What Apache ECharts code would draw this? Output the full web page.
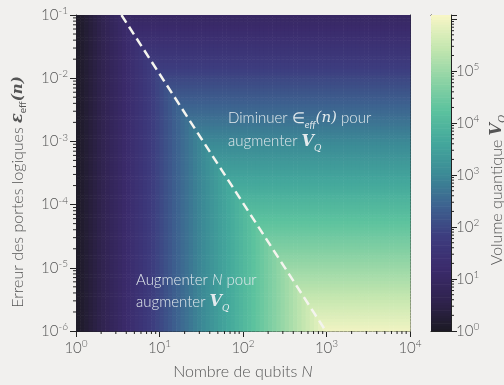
<!DOCTYPE html>
<html>
<head>
<meta charset="utf-8">
<script src="https://cdn.jsdelivr.net/npm/echarts@6/dist/echarts.min.js"></script>
<style>
  html, body { margin: 0; padding: 0; background: #f1f0ee; }
  #chart { width: 504px; height: 385px; }
</style>
</head>
<body>
<div id="chart"></div>
<script>
// log10(V_Q) read along the N-limited side (left of the dashed line), one value per 0.05 decade of N
const vByN = [0.05, 0.15, 0.25, 0.35, 0.45, 0.55, 0.65, 0.75, 0.85, 0.95,
  1.05, 1.15, 1.25, 1.35, 1.45, 1.55, 1.65, 1.75, 1.85, 1.95,
  2.05, 2.15, 2.25, 2.35, 2.45, 2.55, 2.65, 2.75, 2.85, 2.95,
  3.05, 3.15, 3.25, 3.35, 3.45, 3.55, 3.65, 3.75, 3.85, 3.95,
  4.05, 4.15, 4.25, 4.35, 4.45, 4.55, 4.65, 4.75, 4.85, 4.95,
  5.05, 5.15, 5.25, 5.35, 5.45, 5.55, 5.65, 5.75, 5.85, 5.95,
  6.1, 6.1, 6.1, 6.1, 6.1, 6.1, 6.1, 6.1, 6.1, 6.1,
  6.1, 6.1, 6.1, 6.1, 6.1, 6.1, 6.1, 6.1, 6.1, 6.1]
// log10(V_Q) read along the error-limited side (right of the dashed line), eps from 1e-6 up to 1e-1
const vByEps = [5.975, 5.925, 5.875, 5.825, 5.775, 5.725, 5.675, 5.625, 5.575, 5.525,
  5.475, 5.425, 5.375, 5.325, 5.275, 5.225, 5.175, 5.125, 5.075, 5.025,
  4.975, 4.925, 4.875, 4.825, 4.775, 4.725, 4.675, 4.625, 4.575, 4.525,
  4.475, 4.425, 4.375, 4.325, 4.275, 4.225, 4.175, 4.125, 4.075, 4.025,
  3.975, 3.925, 3.875, 3.825, 3.775, 3.725, 3.675, 3.625, 3.575, 3.525,
  3.475, 3.425, 3.375, 3.325, 3.275, 3.225, 3.175, 3.125, 3.075, 3.025,
  2.975, 2.925, 2.875, 2.825, 2.775, 2.725, 2.675, 2.625, 2.575, 2.525,
  2.475, 2.425, 2.375, 2.325, 2.275, 2.225, 2.175, 2.125, 2.075, 2.025,
  1.975, 1.925, 1.875, 1.825, 1.775, 1.725, 1.675, 1.625, 1.575, 1.525,
  1.475, 1.425, 1.375, 1.325, 1.275, 1.225, 1.175, 1.125, 1.075, 1.025]
// dashed boundary  [N, eps]
const dashLine = [[3.5, 0.1], [980, 1e-6]]
const vMaxExp = 6.08
const STEP = 0.05
// cell centres: log10(N) from 0 and log10(eps) from -6
const nExp = vByN.map((_, i) => STEP / 2 + STEP * i)
const epsExp = vByEps.map((_, j) => -6 + STEP / 2 + STEP * j)

const FONT = 'Lato'
const GREY = '#555555'
const WHITE = '#e3eaed'
const cmap = ['#1c1a24', '#30234f', '#3b2b6c', '#3d3c7e', '#3d6390', '#3c8b96',
  '#44a89c', '#5cc29e', '#8fd4a5', '#c6e7b0', '#f7f6c6']

const cells = []
nExp.forEach((nx, i) => {
  epsExp.forEach((ey, j) => {
    cells.push([Math.pow(10, nx), Math.pow(10, ey), Math.min(vByN[i], vByEps[j])])
  })
})
const cbCells = []
for (let c = 0.025; c < vMaxExp; c += 0.05) cbCells.push([0.5, Math.pow(10, c), c])

const minorOf = (lo, hi) => {
  const out = []
  for (let d = lo; d < hi; d++) for (let m = 2; m <= 9; m++) out.push(m * Math.pow(10, d))
  return out
}
const xMinor = minorOf(0, 4).map(v => [v, 1e-6])
const yMinor = minorOf(-6, -1).map(v => [1, v])
const cbMinor = minorOf(0, 6).map(v => [1, v])

const rich = {
  b: { fontFamily: FONT, fontWeight: 300, fontSize: 15, color: GREY, lineHeight: 18 },
  s: { fontFamily: FONT, fontWeight: 300, fontSize: 10, color: GREY, lineHeight: 10, verticalAlign: 'top' }
}
const powLabel = v => {
  const e = Math.log10(v)
  if (Math.abs(e - Math.round(e)) > 0.01) return ''
  return '{b|10}{s|' + Math.round(e) + '}'
}
const k = Math.pow(10, STEP / 2)
const tick = (dx, dy) => (params, api) => {
  const p = api.coord([api.value(0), api.value(1)])
  return { type: 'line', shape: { x1: p[0], y1: p[1], x2: p[0] + dx, y2: p[1] + dy },
    style: { stroke: '#222', lineWidth: 1 } }
}
const border = { show: true, onZero: false, lineStyle: { color: '#222', width: 1 } }
const bare = { axisTick: { show: false }, axisLabel: { show: false }, splitLine: { show: false } }

const chart = echarts.init(document.getElementById('chart'))
chart.setOption({
  animation: false,
  backgroundColor: '#f1f0ee',
  grid: [
    { left: 76, top: 15, width: 334, height: 316 },
    { left: 431, top: 15, width: 20, height: 316 }
  ],
  xAxis: [
    { gridIndex: 0, type: 'log', logBase: 10, min: 1, max: 10000, axisLine: border,
      axisTick: { length: 6, lineStyle: { color: '#222' } }, splitLine: { show: false },
      axisLabel: { formatter: powLabel, rich: rich, margin: 8 } },
    { gridIndex: 0, type: 'value', position: 'top', min: 0, max: 1, axisLine: border, ...bare },
    { gridIndex: 1, type: 'value', min: 0, max: 1, axisLine: border, ...bare },
    { gridIndex: 1, type: 'value', position: 'top', min: 0, max: 1, axisLine: border, ...bare }
  ],
  yAxis: [
    { gridIndex: 0, type: 'log', logBase: 10, min: 1e-6, max: 0.1, axisLine: border,
      axisTick: { length: 6, lineStyle: { color: '#222' } }, splitLine: { show: false },
      axisLabel: { formatter: powLabel, rich: rich, margin: 8 } },
    { gridIndex: 0, type: 'value', position: 'right', min: 0, max: 1, axisLine: border, ...bare },
    { gridIndex: 1, type: 'value', position: 'left', min: 0, max: 1, axisLine: border, ...bare },
    { gridIndex: 1, type: 'log', logBase: 10, position: 'right', min: 1, max: Math.pow(10, vMaxExp),
      axisLine: border, axisTick: { length: 6, lineStyle: { color: '#222' } }, splitLine: { show: false },
      axisLabel: { formatter: v => (Math.log10(v) > 5.5 ? '' : powLabel(v)), rich: rich, margin: 5 } }
  ],
  visualMap: {
    type: 'continuous', show: false, min: 0, max: vMaxExp, dimension: 2,
    seriesIndex: [0, 4], inRange: { color: cmap }
  },
  series: [
    { type: 'custom', xAxisIndex: 0, yAxisIndex: 0, data: cells, clip: true, silent: true,
      encode: { x: 0, y: 1 },
      renderItem: (params, api) => {
        const a = api.coord([api.value(0) / k, api.value(1) * k])
        const b = api.coord([api.value(0) * k, api.value(1) / k])
        return { type: 'rect', shape: { x: a[0], y: a[1], width: b[0] - a[0] + 0.6, height: b[1] - a[1] + 0.6 },
          style: { fill: api.visual('color') } }
      } },
    { type: 'line', xAxisIndex: 0, yAxisIndex: 0, data: dashLine, symbol: 'none', silent: true, z: 5,
      lineStyle: { color: '#f4f4ee', width: 2.5, type: [9, 5] } },
    { type: 'custom', xAxisIndex: 0, yAxisIndex: 0, data: xMinor, clip: false, silent: true,
      encode: { x: 0, y: 1 }, renderItem: tick(0, 3) },
    { type: 'custom', xAxisIndex: 0, yAxisIndex: 0, data: yMinor, clip: false, silent: true,
      encode: { x: 0, y: 1 }, renderItem: tick(-3, 0) },
    { type: 'custom', xAxisIndex: 2, yAxisIndex: 3, data: cbCells, clip: true, silent: true,
      encode: { x: 0, y: 1 },
      renderItem: (params, api) => {
        const lo = Math.pow(10, 0.025)
        const a = api.coord([0, api.value(1) * lo])
        const b = api.coord([1, api.value(1) / lo])
        return { type: 'rect', shape: { x: a[0], y: a[1], width: b[0] - a[0], height: b[1] - a[1] + 0.6 },
          style: { fill: api.visual('color') } }
      } },
    { type: 'custom', xAxisIndex: 2, yAxisIndex: 3, data: cbMinor, clip: false, silent: true,
      encode: { x: 0, y: 1 }, renderItem: tick(3, 0) }
  ],
  graphic: [
    { type: 'text', x: 18, y: 192, rotation: Math.PI / 2, silent: true, z: 100,
      style: { text: 'Erreur des portes logiques {e|\u03b5}{sub|eff}{n|(n)}', align: 'center', verticalAlign: 'middle',
        fontFamily: FONT, fontWeight: 300, fontSize: 16, fill: GREY,
        rich: {
          e: { fontFamily: 'DejaVu Serif', fontStyle: 'italic', fontWeight: 'bold', fontSize: 16, fill: GREY, lineHeight: 20 },
          sub: { fontFamily: FONT, fontSize: 10, fill: GREY, lineHeight: 12, verticalAlign: 'bottom' },
          n: { fontFamily: 'DejaVu Serif', fontStyle: 'italic', fontWeight: 'bold', fontSize: 15, fill: GREY, lineHeight: 20 }
        } } },
    { type: 'text', x: 243, y: 372, silent: true, z: 100,
      style: { text: 'Nombre de qubits {i|N}', align: 'center', verticalAlign: 'middle',
        fontFamily: FONT, fontWeight: 300, fontSize: 16, fill: GREY,
        rich: { i: { fontFamily: FONT, fontWeight: 300, fontStyle: 'italic', fontSize: 16, fill: GREY } } } },
    { type: 'text', x: 497, y: 190, rotation: Math.PI / 2, silent: true, z: 100,
      style: { text: 'Volume quantique {v|V}{q|Q}', align: 'center', verticalAlign: 'middle',
        fontFamily: FONT, fontWeight: 300, fontSize: 16, fill: GREY,
        rich: {
          v: { fontFamily: 'DejaVu Serif', fontStyle: 'italic', fontWeight: 'bold', fontSize: 16, fill: GREY, lineHeight: 20 },
          q: { fontFamily: 'DejaVu Serif', fontStyle: 'italic', fontSize: 10, fill: GREY, lineHeight: 12, verticalAlign: 'bottom' }
        } } },
    { type: 'text', x: 228, y: 107, silent: true, z: 100,
      style: { text: 'Diminuer \u2208{sub|eff}{n|(n)} pour\naugmenter {v|V}{q|Q}',
        fontFamily: FONT, fontWeight: 300, fontSize: 15, fill: WHITE, lineHeight: 23,
        rich: {
          sub: { fontFamily: FONT, fontStyle: 'italic', fontSize: 10, fill: WHITE, lineHeight: 14, verticalAlign: 'bottom' },
          n: { fontFamily: 'DejaVu Serif', fontStyle: 'italic', fontSize: 15, fill: WHITE, lineHeight: 23 },
          v: { fontFamily: 'DejaVu Serif', fontStyle: 'italic', fontWeight: 'bold', fontSize: 16, fill: WHITE, lineHeight: 23 },
          q: { fontFamily: 'DejaVu Serif', fontStyle: 'italic', fontSize: 9, fill: WHITE, lineHeight: 14, verticalAlign: 'bottom' }
        } } },
    { type: 'text', x: 136, y: 269, silent: true, z: 100,
      style: { text: 'Augmenter {i|N} pour\naugmenter {v|V}{q|Q}',
        fontFamily: FONT, fontWeight: 300, fontSize: 15, fill: WHITE, lineHeight: 22,
        rich: {
          i: { fontFamily: FONT, fontWeight: 300, fontStyle: 'italic', fontSize: 15, fill: WHITE, lineHeight: 22 },
          v: { fontFamily: 'DejaVu Serif', fontStyle: 'italic', fontWeight: 'bold', fontSize: 16, fill: WHITE, lineHeight: 22 },
          q: { fontFamily: 'DejaVu Serif', fontStyle: 'italic', fontSize: 9, fill: WHITE, lineHeight: 14, verticalAlign: 'bottom' }
        } } }
  ]
})
</script>
</body>
</html>
